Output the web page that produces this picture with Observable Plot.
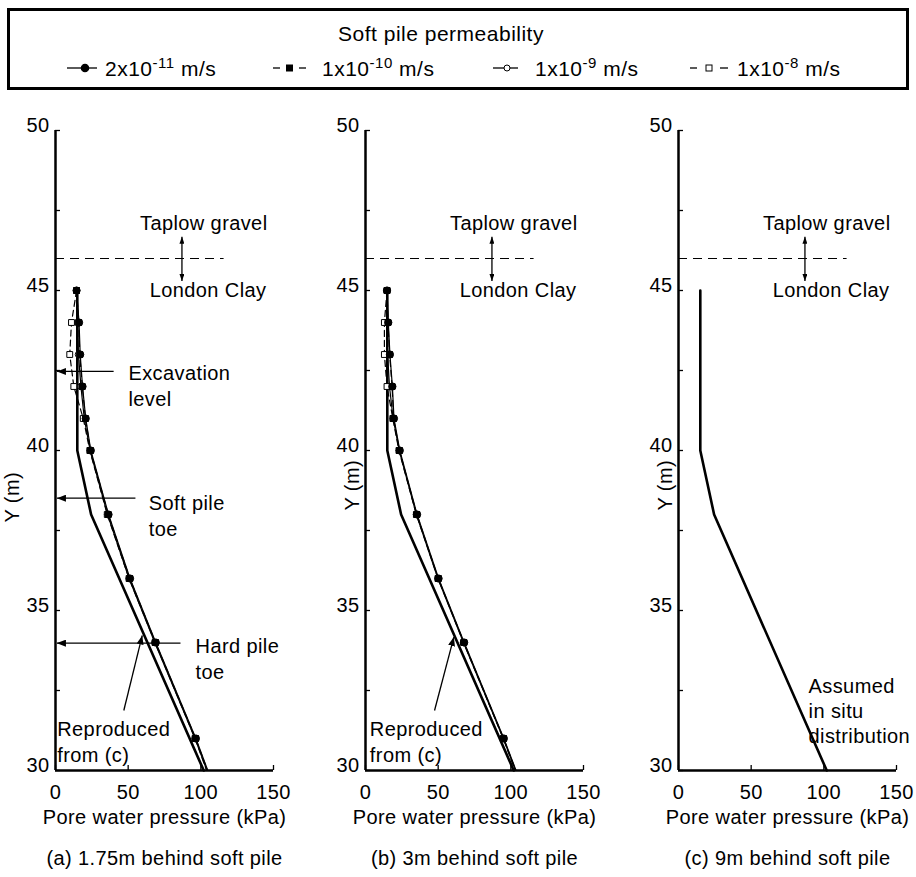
<!DOCTYPE html>
<html>
<head>
<meta charset="utf-8">
<script src="https://cdn.jsdelivr.net/npm/d3@7"></script>
<script src="https://cdn.jsdelivr.net/npm/@observablehq/plot@0.6"></script>
<style>
  body { margin: 0; background: #fff; font-family: "Liberation Sans", Arial, sans-serif; color: #000; }
  #root { position: relative; width: 916px; height: 877px; overflow: hidden; }
  .legend-box { position: absolute; left: 7px; top: 8px; width: 902px; height: 82px; box-sizing: border-box; border: 3px solid #000; }
  .lt { position: absolute; font-size: 21px; letter-spacing: 0.5px; white-space: nowrap; line-height: 1; }
  .lt sup { font-size: 15px; vertical-align: 0; position: relative; top: -8px; }
  .panel { position: absolute; top: 95px; }
</style>
</head>
<body>
<div id="root"></div>
<script>
// ---------------- data ----------------
const legendTitle = "Soft pile permeability";
const seriesBase = ["2x10", "1x10", "1x10", "1x10"];
const seriesExp = ["-11", "-10", "-9", "-8"];
const seriesUnit = " m/s";

const depthLevels = [45, 44, 43, 42, 41, 40, 38, 36, 34, 31, 30];

// panel (a) 1.75m behind soft pile
const pwpA_k2e11 = [14.5, 16.2, 17.0, 18.6, 20.8, 24.3, 36.5, 51.3, 69.0, 96.6, 104.8];
const pwpA_k1e10 = [14.5, 16.0, 16.7, 18.4, 20.6, 24.1, 36.3, 51.1, 68.8, 96.4, 104.6];
const pwpA_k1e9  = [14.5, 15.2, 15.8, 17.5, 19.8, 23.8, 35.8, 50.6, 68.3, 96.0, 104.2];
const pwpA_k1e8  = [14.5, 11.0,  9.8, 12.6, 19.1, 23.6, 35.6, 50.6, 68.5, 96.0, 104.0];

// panel (b) 3m behind soft pile
const pwpB_k2e11 = [14.8, 15.7, 16.8, 18.5, 19.6, 23.6, 35.5, 50.3, 67.9, 95.2, 103.6];
const pwpB_k1e10 = [14.8, 15.5, 16.6, 18.3, 19.3, 23.4, 35.3, 50.1, 67.7, 95.0, 103.4];
const pwpB_k1e9  = [14.8, 14.5, 15.2, 16.5, 19.0, 23.2, 35.0, 49.8, 67.4, 94.8, 103.2];
const pwpB_k1e8  = [14.8, 13.0, 13.0, 14.8, 18.8, 23.0, 35.0, 49.9, 67.5, 94.8, 103.0];

// assumed in situ distribution (c), reproduced in (a) and (b)
const insituDepth = [45, 40, 38, 30];
const insituPwp   = [15, 15, 24.5, 102];

const yTicksMajor = [30, 35, 40, 45, 50];
const yTicksAll   = [30, 32.5, 35, 37.5, 40, 42.5, 45, 47.5, 50];
const xTicks      = [0, 50, 100, 150];

const xAxisLabel = "Pore water pressure (kPa)";
const yAxisLabel = "Y (m)";
const captions = ["(a) 1.75m behind soft pile", "(b) 3m behind soft pile", "(c) 9m behind soft pile"];

const layerLabels = ["Taplow gravel", "London Clay"];
const layerLabelX = [102, 105];
const layerLabelY = [47.1, 45.0];
const layerBoundaryY = 46;
const layerBoundaryEnd = 116;
const layerArrowX = 87;
const layerArrowY = [46.68, 45.3];

const levelNotes = ["Excavation\nlevel", "Soft pile\ntoe", "Hard pile\ntoe"];
const levelY = [42.47, 38.51, 33.98];
const levelArrowFrom = [40, 55, 86];
const levelArrowTip = 1;
const levelNoteX = [50.2, 64.2, 96.4];
const levelNoteY = [42.06, 38.0, 33.52];

const reproNote = "Reproduced\nfrom (c)";
const reproNoteX = [1.2, 3.0];
const reproNoteY = 30.94;
const reproArrowTail = [[47, 31.875], [47.5, 31.875]];
const reproArrowTip  = [[59.7, 34.22], [60.8, 34.17]];

const insituNote = "Assumed\nin situ\ndistribution";
const insituNoteX = 89.5;
const insituNoteY = 31.9;

// --------------- helpers ---------------
const NS = "http://www.w3.org/2000/svg";
function headMarker(len, wid) {
  return (color, context) => {
    const doc = (context && context.document) || document;
    const m = doc.createElementNS(NS, "marker");
    m.setAttribute("viewBox", `${-len} ${-wid / 2} ${len} ${wid}`);
    m.setAttribute("markerWidth", len);
    m.setAttribute("markerHeight", wid);
    m.setAttribute("markerUnits", "userSpaceOnUse");
    m.setAttribute("orient", "auto-start-reverse");
    m.setAttribute("refX", 0);
    m.setAttribute("refY", 0);
    const p = doc.createElementNS(NS, "path");
    p.setAttribute("d", `M0,0L${-len},${-wid / 2}L${-len},${wid / 2}Z`);
    p.setAttribute("fill", color || "black");
    p.setAttribute("stroke", "none");
    m.appendChild(p);
    return m;
  };
}

const seriesStyles = [
  {dash: null,  symbol: "circle", fill: "black", r: 3.6},
  {dash: "6,4", symbol: "square", fill: "black", r: 3.3},
  {dash: null,  symbol: "circle", fill: "white", r: 3.2},
  {dash: "6,4", symbol: "square", fill: "white", r: 3.3}
];

function rowsOf(values) {
  return depthLevels.map((y, i) => ({y, x: values[i]}));
}

function buildPanel(cfg, custom) {
  const head = custom ? headMarker(9, 7) : "arrow";
  const smallHead = custom ? headMarker(7, 5) : "arrow";
  const marks = [];
  // axis lines and ticks
  marks.push(Plot.axisY({ticks: yTicksAll, tickSize: -5, tickFormat: () => "", label: null, strokeWidth: 1.3}));
  marks.push(Plot.axisY({ticks: yTicksMajor, tickSize: 0, tickPadding: 6, dy: -5, label: null}));
  marks.push(Plot.axisX({ticks: xTicks, tickSize: -5, tickFormat: () => "", label: null, strokeWidth: 1.3}));
  marks.push(Plot.axisX({ticks: xTicks, tickSize: 0, tickPadding: 14, label: null}));
  marks.push(Plot.ruleX([0], {y1: 30, y2: 50, strokeWidth: 2.5}));
  marks.push(Plot.ruleY([30], {x1: 0, x2: 150, strokeWidth: 2.5}));

  // layer boundary
  marks.push(Plot.ruleY([layerBoundaryY], {x1: 0, x2: layerBoundaryEnd, strokeWidth: 1.2, strokeDasharray: "9,6"}));
  marks.push(Plot.link([0], {x1: layerArrowX, x2: layerArrowX, y1: layerArrowY[1], y2: layerArrowY[0],
    strokeWidth: 1.3, markerStart: smallHead, markerEnd: smallHead}));
  marks.push(Plot.text(layerLabels, {x: layerLabelX, y: layerLabelY, text: d => d}));

  // in situ line
  marks.push(Plot.line(insituDepth.map((y, i) => ({y, x: insituPwp[i]})), {x: "x", y: "y", strokeWidth: 2.6}));

  if (cfg.series) {
    cfg.series.forEach((vals, k) => {
      const st = seriesStyles[k];
      const rows = rowsOf(vals);
      marks.push(Plot.line(rows, {x: "x", y: "y", strokeWidth: 1.2, strokeDasharray: st.dash}));
    });
    [2, 3, 0, 1].forEach(k => {
      const st = seriesStyles[k];
      const rows = rowsOf(cfg.series[k]).filter(d => d.y !== 30);
      marks.push(Plot.dot(rows, {x: "x", y: "y", symbol: st.symbol, fill: st.fill, stroke: "black", strokeWidth: 1, r: st.r}));
    });
  }

  if (cfg.levelNotes) {
    marks.push(Plot.link(levelY, {x1: levelArrowFrom, x2: () => levelArrowTip, y1: d => d, y2: d => d,
      strokeWidth: 1.3, markerEnd: head}));
    marks.push(Plot.text(levelNotes, {x: levelNoteX, y: levelNoteY, text: d => d, textAnchor: "start", lineHeight: 1.3}));
  }
  if (cfg.repro != null) {
    const i = cfg.repro;
    marks.push(Plot.link([0], {x1: reproArrowTail[i][0], y1: reproArrowTail[i][1], x2: reproArrowTip[i][0], y2: reproArrowTip[i][1],
      strokeWidth: 1.3, markerEnd: head}));
    marks.push(Plot.text([reproNote], {x: reproNoteX[i], y: reproNoteY, text: d => d, textAnchor: "start", lineHeight: 1.3}));
  }
  if (cfg.insitu) {
    marks.push(Plot.text([insituNote], {x: insituNoteX, y: insituNoteY, text: d => d, textAnchor: "start", lineHeight: 1.25}));
  }

  // axis titles and caption
  marks.push(Plot.text([xAxisLabel], {frameAnchor: "bottom", dy: 53, text: d => d}));
  marks.push(Plot.text([cfg.caption], {frameAnchor: "bottom", dy: 94, text: d => d}));
  marks.push(Plot.text([yAxisLabel], {frameAnchor: "left", dx: cfg.yLabelDx, dy: cfg.yLabelDy, rotate: -90, text: d => d}));

  return Plot.plot({
    width: cfg.width,
    height: 782,
    marginLeft: 55,
    marginRight: cfg.width - 273,
    marginTop: 35,
    marginBottom: 107,
    x: {domain: [0, 150], label: null},
    y: {domain: [30, 50], label: null},
    style: {fontFamily: "'Liberation Sans', Arial, sans-serif", fontSize: "20px", letterSpacing: "0.4px",
      background: "transparent", overflow: "visible", color: "black"},
    marks
  });
}

function panel(cfg) {
  try { return buildPanel(cfg, true); }
  catch (e) { return buildPanel(cfg, false); }
}

// --------------- layout ---------------
const root = document.getElementById("root");

const box = document.createElement("div");
box.className = "legend-box";
root.appendChild(box);

const title = document.createElement("div");
title.className = "lt";
title.textContent = legendTitle;
title.style.left = "441px";
title.style.top = "23px";
title.style.transform = "translateX(-50%)";
root.appendChild(title);

const legendTextX = [105, 322, 535, 737];
seriesBase.forEach((b, i) => {
  const d = document.createElement("div");
  d.className = "lt";
  d.style.left = legendTextX[i] + "px";
  d.style.top = "58px";
  d.append(b);
  const s = document.createElement("sup");
  s.textContent = seriesExp[i];
  d.append(s);
  d.append(seriesUnit);
  root.appendChild(d);
});

// legend line samples
const ls = document.createElementNS(NS, "svg");
ls.setAttribute("width", 916);
ls.setAttribute("height", 95);
ls.style.position = "absolute";
ls.style.left = "0px";
ls.style.top = "0px";
ls.innerHTML = `
  <g stroke="black" stroke-width="1.3">
    <line x1="67" x2="97" y1="68" y2="68"/>
    <circle cx="85" cy="68" r="3.6" fill="black"/>
    <line x1="273" x2="280" y1="68" y2="68"/>
    <line x1="299" x2="306" y1="68" y2="68"/>
    <rect x="286.5" y="65" width="6" height="6" fill="black" stroke-width="1"/>
    <line x1="493" x2="518" y1="68" y2="68"/>
    <circle cx="507" cy="68" r="3" fill="white" stroke-width="1"/>
    <line x1="690" x2="697" y1="68" y2="68"/>
    <line x1="720" x2="728" y1="68" y2="68"/>
    <rect x="706" y="65" width="6" height="6" fill="white" stroke-width="1"/>
  </g>`;
root.appendChild(ls);

const cfgs = [
  {left: 0, width: 300, series: [pwpA_k2e11, pwpA_k1e10, pwpA_k1e9, pwpA_k1e8], levelNotes: true, repro: 0,
   caption: captions[0], yLabelDx: -43, yLabelDy: 72},
  {left: 310, width: 300, series: [pwpB_k2e11, pwpB_k1e10, pwpB_k1e9, pwpB_k1e8], repro: 1,
   caption: captions[1], yLabelDx: -13, yLabelDy: 60},
  {left: 623, width: 293, insitu: true,
   caption: captions[2], yLabelDx: -13, yLabelDy: 60}
];
cfgs.forEach(cfg => {
  const svg = panel(cfg);
  svg.classList.add("panel");
  svg.style.position = "absolute";
  svg.style.left = cfg.left + "px";
  svg.style.top = "95px";
  root.appendChild(svg);
});
</script>
</body>
</html>
